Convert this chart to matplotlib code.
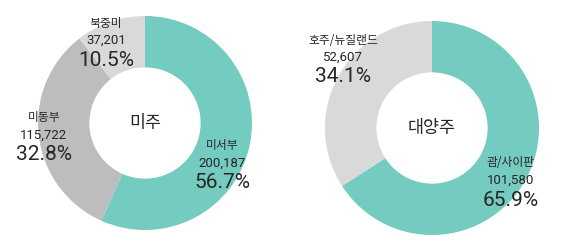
import matplotlib
matplotlib.use("Agg")
import matplotlib.pyplot as plt

plt.rcParams["font.family"] = ["Noto Sans CJK KR", "DejaVu Sans"]

# data
america_labels = ["미서부", "미동부", "북중미"]
america_counts = [200187, 115722, 37201]
america_pcts = [56.7, 32.8, 10.5]
oceania_labels = ["괌/사이판", "호주/뉴질랜드"]
oceania_counts = [101580, 52607]
oceania_pcts = [65.9, 34.1]

TEAL = "#74cbbf"
GRAY = "#bdbdbd"
LIGHT = "#d9d9d9"
TEXT = "#262626"
NUM_FONT = ["Roboto", "DejaVu Sans"]

W, H = 569, 252
fig = plt.figure(figsize=(W / 100, H / 100), dpi=100)
ax = fig.add_axes([0, 0, 1, 1])


def donut(center, radius, values, colors, title):
    ax.pie(
        values,
        colors=colors,
        startangle=90,
        counterclock=False,
        center=center,
        radius=radius,
        wedgeprops=dict(width=radius * 0.48, linewidth=0),
        frame=True,
    )
    ax.text(center[0], center[1], title, ha="center", va="center", fontsize=12.5, color=TEXT)


def label(x, y, name, count, pct):
    ax.text(x, H - y, name, ha="center", va="center", fontsize=8.5, color=TEXT)
    ax.text(x, H - y - 17, f"{count:,}", ha="center", va="center", fontsize=9.5,
            color=TEXT, family=NUM_FONT)
    ax.text(x, H - y - 37, f"{pct}%", ha="center", va="center", fontsize=15,
            color=TEXT, family=NUM_FONT)


donut((145, H - 123), 107, america_counts, [TEAL, GRAY, LIGHT], "미주")
donut((432, H - 128), 107, oceania_counts, [TEAL, LIGHT], "대양주")

ax.set_xlim(0, W)
ax.set_ylim(0, H)
ax.set_aspect("equal")
ax.axis("off")

label_pos_am = [(222, 146), (44, 118), (106, 23)]
for (x, y), n, c, p in zip(label_pos_am, america_labels, america_counts, america_pcts):
    label(x, y, n, c, p)

label_pos_oc = [(511, 163), (343, 40)]
for (x, y), n, c, p in zip(label_pos_oc, oceania_labels, oceania_counts, oceania_pcts):
    label(x, y, n, c, p)

fig.savefig("out.png", dpi=100)
